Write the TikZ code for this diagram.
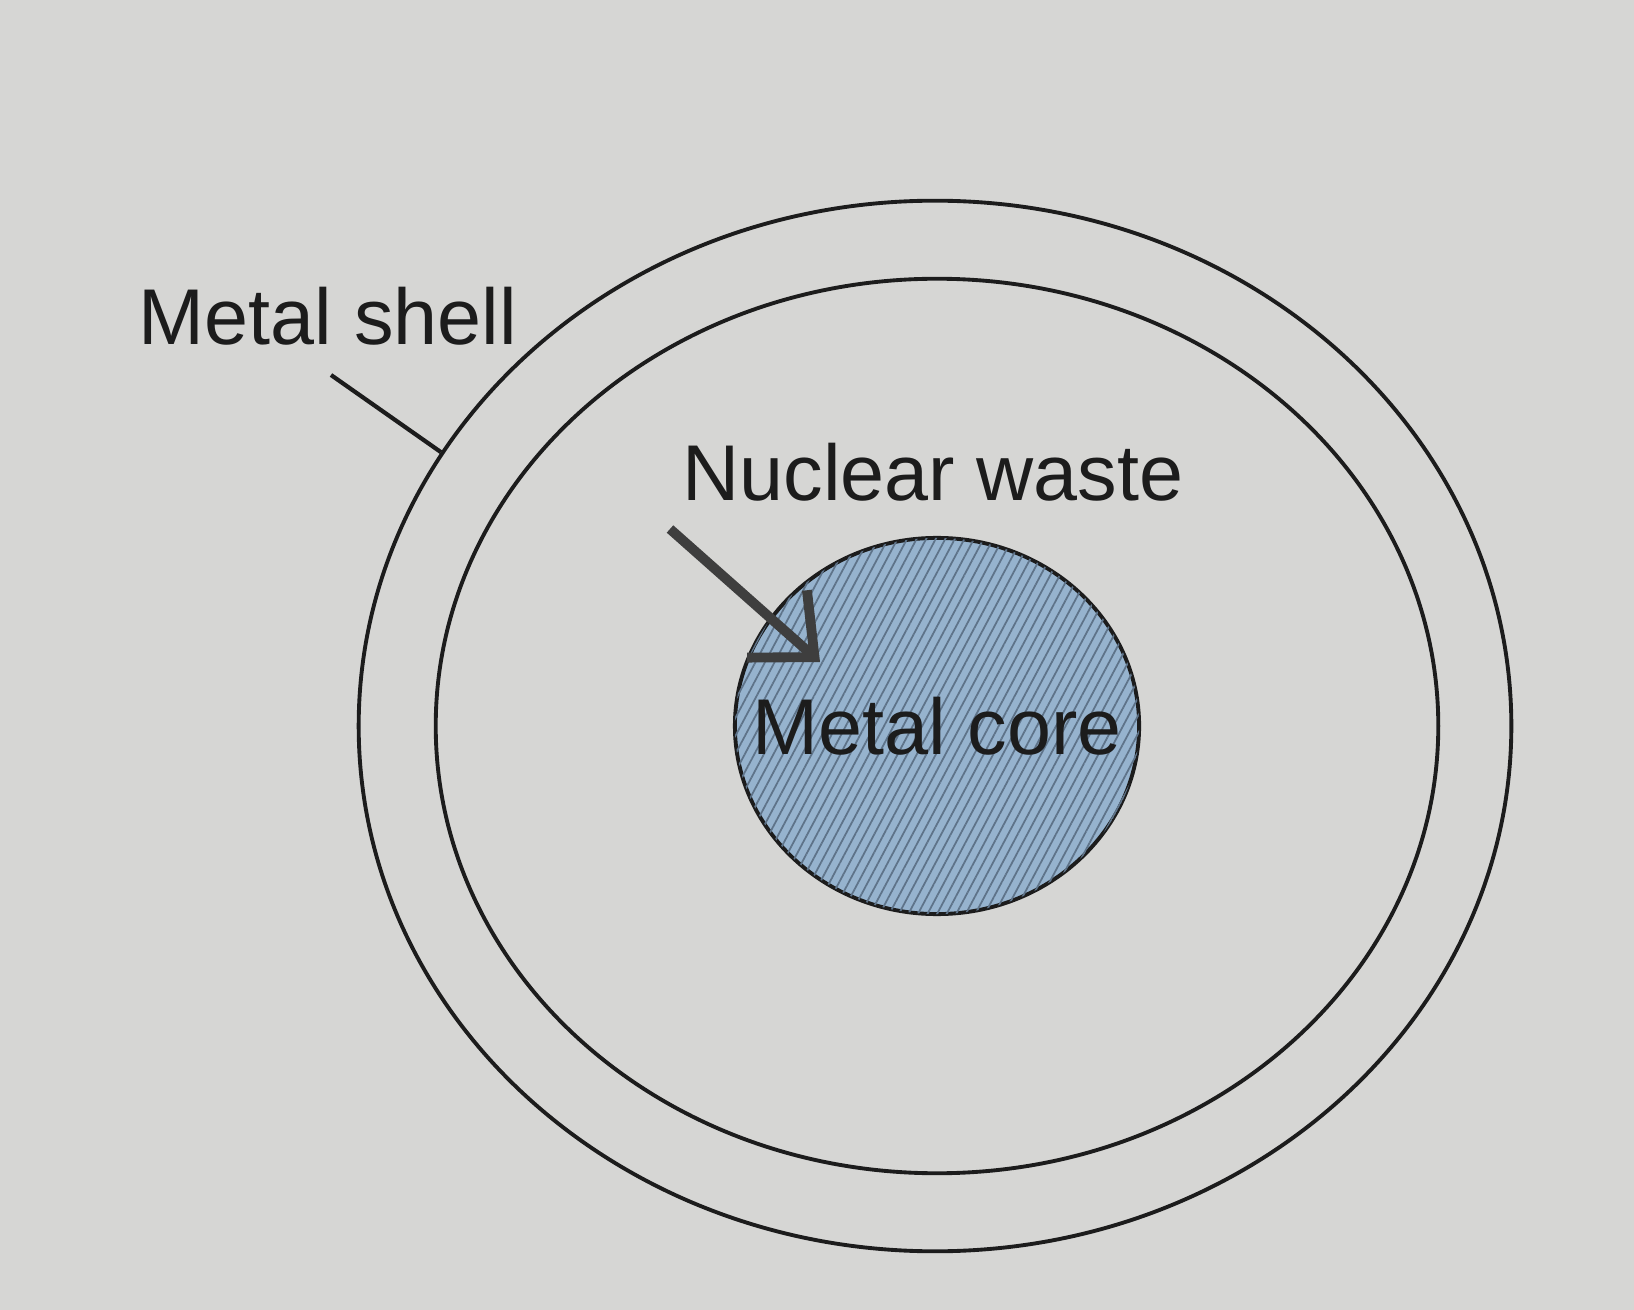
\documentclass[tikz,border=0pt]{standalone}
\usepackage{fontspec}
\setmainfont{Liberation Sans}
\usetikzlibrary{positioning}
\usetikzlibrary{arrows.meta}
\usetikzlibrary{shapes.geometric}
\usetikzlibrary{patterns.meta}
\definecolor{paper}{HTML}{D6D6D4}
\definecolor{ink}{HTML}{1C1C1C}
\definecolor{coreblue}{HTML}{96B3CE}
\definecolor{hatch}{HTML}{5E7389}
\tikzset{ring/.style={draw=ink, line width=1.1pt, ellipse, inner sep=0pt},
lbl/.style={text=ink, font=\fontsize{22.5}{27}\selectfont, inner sep=0pt}}

\begin{document}
\begin{tikzpicture}[x=0.01cm, y=-0.01cm,
  coreblob/.style={ring, fill=coreblue, postaction={pattern={Lines[angle=62,distance=2.4pt,line width=0.5pt]}, pattern color=hatch}},
  ptr/.style={draw=ink!85, line width=2.8pt, -{Straight Barb[length=5mm,width=9mm]}}]
\fill[paper] (0,0) rectangle (1634,1310);
\useasboundingbox (0,0) rectangle (1634,1310);
\node[ring, minimum width=11.52cm, minimum height=10.5cm] (outer) at (935,726) {};
\node[ring, minimum width=10.02cm, minimum height=8.94cm] (inner) at (937,726) {};
\node[coreblob, minimum width=4.04cm, minimum height=3.76cm] (core) at (937,726) {};
\node[lbl] (corelbl) at (core.center) {Metal core};
\node[lbl] (shell) at (328,316) {Metal shell};
\node[lbl] (waste) at (933,472) {Nuclear waste};
\coordinate (shellend) at (331,375);
\draw[ink, line width=1.2pt] (shellend) -- (outer.151);
\coordinate (wastetail) at (670,529);
\coordinate (wastetip) at (820,662);
\draw[ptr] (wastetail) -- (wastetip);
\end{tikzpicture}
\end{document}
